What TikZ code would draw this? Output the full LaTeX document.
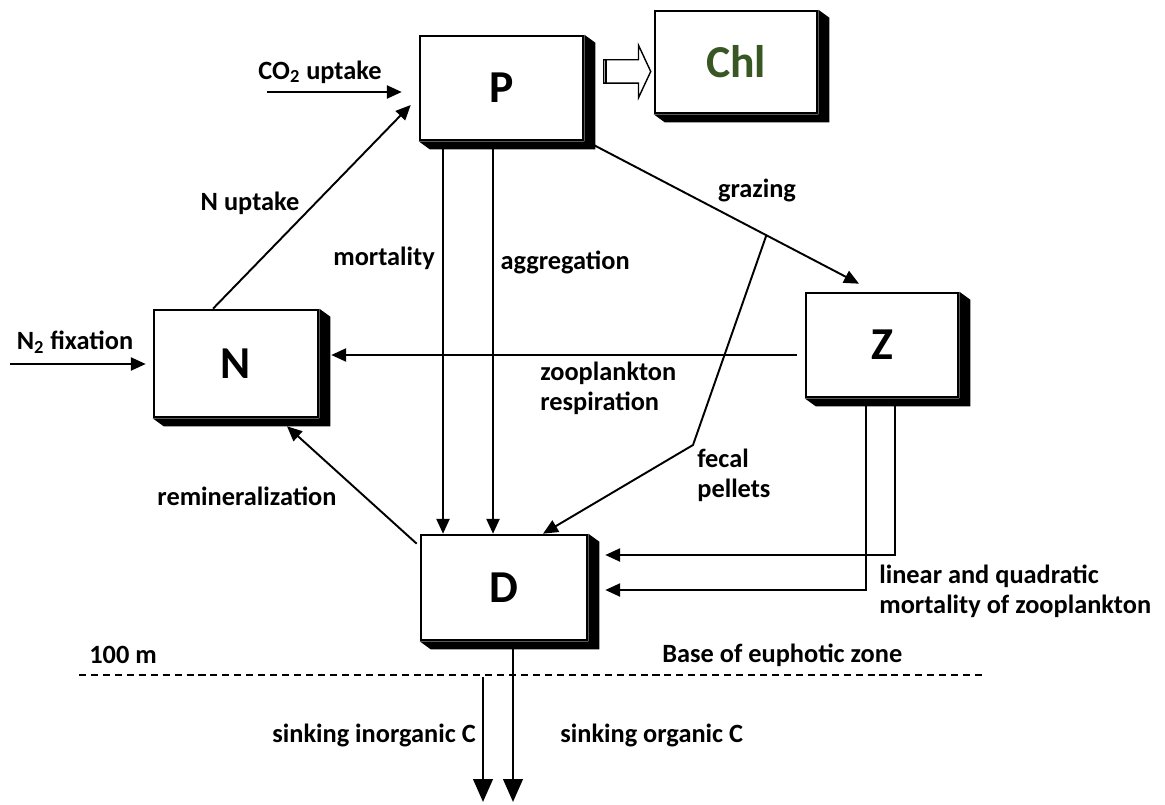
\documentclass[tikz,border=0pt]{standalone}
\usepackage{fontspec}
\setmainfont{Carlito}
\usetikzlibrary{arrows.meta,shapes.arrows}
\definecolor{chlgreen}{RGB}{56,87,35}
\tikzstyle{pool} = [rectangle, draw=black, line width=1.5pt, fill=white, inner sep=0pt, font=\fontsize{26}{30}\selectfont\bfseries]
\tikzstyle{flux} = [line width=1.1pt, -{Triangle[length=8.5pt,width=7.5pt]}]
\tikzstyle{sink} = [line width=1.6pt, -{Triangle[length=13pt,width=11pt]}]
\tikzstyle{lab} = [inner sep=0pt, align=left, font=\fontsize{15}{17}\selectfont\bfseries]

\begin{document}
\begin{tikzpicture}[x=0.02cm, y=-0.02cm]
        \useasboundingbox (0,0) rectangle (1165,804);

        \node (P) [pool, minimum width=3.26cm, minimum height=2.08cm] at (501.5,88) {P};
        \node (Chl) [pool, minimum width=3.24cm, minimum height=2.04cm, text=chlgreen] at (736,62) {Chl};
        \node (N) [pool, minimum width=3.28cm, minimum height=2.14cm] at (236,363.5) {N};
        \node (Z) [pool, minimum width=3.04cm, minimum height=2.08cm] at (882,345) {Z};
        \node (D) [pool, minimum width=3.32cm, minimum height=2.1cm] at (504,587.5) {D};

        \foreach \b in {P,Chl,N,Z,D}
            \fill (\b.north east) -- ++(11,8) -- ([shift={(11,8)}]\b.south east) -- ([shift={(11,8)}]\b.south west) -- (\b.south west) -- (\b.south east) -- cycle;

        \node (toChl) [single arrow, draw, line width=0.8pt, fill=white, inner xsep=0pt, inner ysep=0.22cm, minimum height=0.94cm, single arrow head extend=0.29cm, single arrow tip angle=130] at (624.5,71.5) {};
        \draw[line width=1.6pt] ([xshift=0.06cm]toChl.before tail) -- ([xshift=0.06cm]toChl.after tail);

        \coordinate (co2) at (267,92);
        \coordinate (n2) at (10,364);
        \draw[flux, shorten >=0.34cm] (co2) -- (co2 -| P.west);
        \draw[flux, shorten >=0.14cm] (n2) -- (n2 -| N.west);
        \draw[flux] ([shift={(-23,0)}]N.north) -- ([shift={(-8,17)}]P.west);

        \draw[flux] ([shift={(-58.5,8)}]P.south) -- ([shift={(-61,0)}]D.north);
        \draw[flux] ([shift={(-8.5,8)}]P.south) -- ([shift={(-11,0)}]D.north);

        \draw[flux] ([shift={(10,4)}]P.south east) -- coordinate[pos=0.65] (fecal) ([shift={(-23,-8)}]Z.north);
        \coordinate (bend) at (693,445);
        \draw[flux] (fecal) -- (bend) -- ([shift={(39,0)}]D.north);

        \draw[flux] ([shift={(-8,10)}]Z.west) -- ([shift={(12,-8.5)}]N.east);
        \draw[flux] ([shift={(-3,10)}]D.north west) -- ([shift={(51,8)}]N.south);

        \draw[flux] ([shift={(13,8)}]Z.south) |- ([shift={(17,-32.5)}]D.east);
        \draw[flux] ([shift={(-16,8)}]Z.south) |- ([shift={(17,2.5)}]D.east);

        \coordinate (baseL) at (79,675);
        \coordinate (baseR) at (985,675);
        \draw[line width=1pt, dash pattern=on 4pt off 2.8pt] (baseL) -- (baseR);

        \coordinate (inorgTop) at (483,677);
        \coordinate (inorgEnd) at (483,802);
        \coordinate (orgEnd) at (513,802);
        \draw[sink] ([shift={(9,8)}]D.south) -- (orgEnd);
        \draw[sink] (inorgTop) -- (inorgEnd);

        \node (lco2) [lab] at (320,72) {CO\textsubscript{2} uptake};
        \node (ln2) [lab] at (75,342) {N\textsubscript{2} fixation};
        \node (lnup) [lab] at (250,203) {N uptake};
        \node (lmort) [lab, anchor=west] at (333,258) {mortality};
        \node (laggr) [lab, anchor=east] at (630,262) {aggregation};
        \node (lgraz) [lab] at (757,190) {grazing};
        \node (lresp) [lab, anchor=west] at (540,388) {zooplankton\\respiration};
        \node (lfecal) [lab, anchor=west] at (697,475) {fecal\\pellets};
        \node (lremin) [lab] at (247,496) {remineralization};
        \node (lzmort) [lab, anchor=west] at (879,591) {linear and quadratic\\mortality of zooplankton};
        \node (ldepth) [lab, anchor=west] at (89,655) {100 m};
        \node (lbase) [lab, anchor=west] at (662,655) {Base of euphotic zone};
        \node (linorg) [lab, anchor=east] at (476,735) {sinking inorganic C};
        \node (lorg) [lab, anchor=west] at (560,735) {sinking organic C};

    \end{tikzpicture}
\end{document}
